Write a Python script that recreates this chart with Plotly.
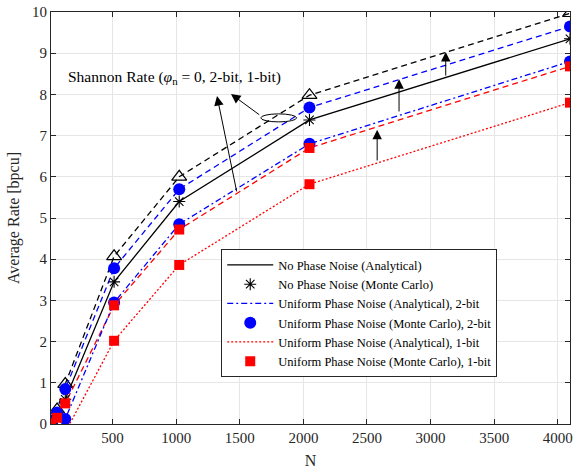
import plotly.graph_objects as go

# ---- data ----
N = [16, 64, 128, 512, 1024, 2048, 4096]
shannon_nopn = [0.05, 0.35, 0.97, 4.07, 6.00, 7.98, 9.97]
analytic_nopn = [0.02, 0.20, 0.60, 3.45, 5.40, 7.38, 9.35]
shannon_2bit = [0.04, 0.28, 0.85, 3.78, 5.70, 7.68, 9.65]
analytic_2bit = [-0.3, -0.2, 0.12, 2.95, 4.85, 6.80, 8.80]
shannon_1bit = [0.03, 0.15, 0.50, 2.88, 4.72, 6.70, 8.68]
analytic_1bit = [-0.6, -0.5, -0.2, 2.02, 3.86, 5.82, 7.80]

mc_nopn_N = [16, 64, 128, 512, 1024, 2048, 4096]
mc_nopn = [0.02, 0.20, 0.60, 3.45, 5.40, 7.38, 9.35]
mc_2bit_N = [16, 64, 128, 512, 1024, 2048, 4096]
mc_2bit_shannon = [0.04, 0.28, 0.85, 3.78, 5.70, 7.68, 9.65]
mc_2bit_analytic_N = [128, 512, 1024, 2048, 4096]
mc_2bit_analytic = [0.12, 2.95, 4.85, 6.80, 8.80]
mc_1bit_shannon = [0.03, 0.15, 0.50, 2.88, 4.72, 6.70, 8.68]
mc_1bit_analytic_N = [512, 1024, 2048, 4096]
mc_1bit_analytic = [2.02, 3.86, 5.82, 7.80]

x_ticks = [500, 1000, 1500, 2000, 2500, 3000, 3500, 4000]
y_ticks = list(range(0, 11))

FONT = "Liberation Serif, Times New Roman, serif"
BLACK = "#000000"
BLUE = "#0000ff"
RED = "#ff0000"
LW = 1.3

fig = go.Figure()

# Shannon curves (not in legend)
fig.add_trace(go.Scatter(x=N, y=shannon_nopn, mode="lines+markers", showlegend=False,
                         line=dict(color=BLACK, width=LW, dash="6px,4px"),
                         marker=dict(symbol="triangle-up-open", size=13, color=BLACK,
                                     line=dict(width=1.2, color=BLACK))))
fig.add_trace(go.Scatter(x=N, y=shannon_2bit, mode="lines", showlegend=False,
                         line=dict(color=BLUE, width=LW, dash="6px,4px")))
fig.add_trace(go.Scatter(x=N, y=shannon_1bit, mode="lines", showlegend=False,
                         line=dict(color=RED, width=LW, dash="6px,4px")))

# Legend traces
fig.add_trace(go.Scatter(x=N, y=analytic_nopn, mode="lines", name="No Phase Noise (Analytical)",
                         line=dict(color=BLACK, width=LW)))
fig.add_trace(go.Scatter(x=mc_nopn_N, y=mc_nopn, mode="markers", name="No Phase Noise (Monte Carlo)",
                         marker=dict(symbol="asterisk-open", size=10, color=BLACK,
                                     line=dict(width=1.1, color=BLACK))))
fig.add_trace(go.Scatter(x=N, y=analytic_2bit, mode="lines",
                         name="Uniform Phase Noise (Analytical), 2-bit",
                         line=dict(color=BLUE, width=LW, dash="6px,3px,2px,3px")))
fig.add_trace(go.Scatter(x=mc_2bit_N + mc_2bit_analytic_N,
                         y=mc_2bit_shannon + mc_2bit_analytic, mode="markers",
                         name="Uniform Phase Noise (Monte Carlo), 2-bit",
                         marker=dict(symbol="circle", size=12, color=BLUE)))
fig.add_trace(go.Scatter(x=N, y=analytic_1bit, mode="lines",
                         name="Uniform Phase Noise (Analytical), 1-bit",
                         line=dict(color=RED, width=LW, dash="2px,2px")))
fig.add_trace(go.Scatter(x=N + mc_1bit_analytic_N,
                         y=mc_1bit_shannon + mc_1bit_analytic, mode="markers",
                         name="Uniform Phase Noise (Monte Carlo), 1-bit",
                         marker=dict(symbol="square", size=10, color=RED)))

# arrows: (head_x, head_y, tail_x, tail_y)
arrows = [
    (1431, 8.01, 1665, 7.48),
    (1321, 7.96, 1478, 5.61),
    (3119, 9.03, 3119, 8.42),
    (2752, 8.37, 2752, 7.55),
    (2580, 7.14, 2580, 6.36),
]
annotations = []
for hx, hy, tx, ty in arrows:
    annotations.append(dict(x=hx, y=hy, ax=tx, ay=ty, xref="x", yref="y", axref="x", ayref="y",
                            text="", showarrow=True, arrowhead=2, arrowsize=1.9, arrowwidth=1,
                            arrowcolor=BLACK, standoff=0, startstandoff=0))
annotations.append(dict(x=985, y=8.42, xref="x", yref="y", showarrow=False,
                        text="Shannon Rate (<i>φ</i><sub>n</sub> = 0, 2-bit, 1-bit)",
                        font=dict(family=FONT, size=15.5, color=BLACK)))

fig.add_shape(type="circle", xref="x", yref="y", x0=1806 - 141, x1=1806 + 141,
              y0=7.43 - 0.097, y1=7.43 + 0.097, line=dict(color=BLACK, width=1))

axis_common = dict(showline=True, linecolor="#262626", linewidth=1, mirror="ticks",
                   ticks="inside", ticklen=5, tickcolor="#262626",
                   showgrid=True, gridcolor="#e6e6e6", gridwidth=1, zeroline=False,
                   tickfont=dict(family=FONT, size=15, color="#262626"))

fig.update_layout(
    width=577, height=470,
    margin=dict(l=51, r=4, t=12, b=46),
    paper_bgcolor="white", plot_bgcolor="white",
    font=dict(family=FONT, color="#262626"),
    xaxis=dict(range=[16, 4096], tickvals=x_ticks, ticktext=[str(v) for v in x_ticks],
               title=dict(text="N", font=dict(family=FONT, size=16, color="#262626"), standoff=9),
               **axis_common),
    yaxis=dict(range=[0, 10], tickvals=y_ticks, ticktext=[str(v) for v in y_ticks],
               title=dict(text="Average Rate [bpcu]", font=dict(family=FONT, size=16, color="#262626"),
                          standoff=8),
               **axis_common),
    legend=dict(x=0.328, y=0.424, xanchor="left", yanchor="top",
                bgcolor="white", bordercolor="#262626", borderwidth=1,
                font=dict(family=FONT, size=12.5, color="#000000"),
                itemwidth=46, tracegroupgap=0),
    annotations=annotations,
    showlegend=True,
)

fig.write_html("out.html")
